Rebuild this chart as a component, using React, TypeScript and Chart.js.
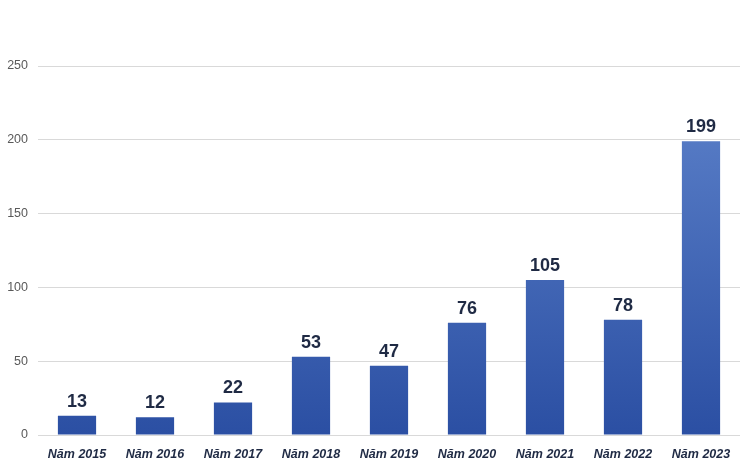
import React, { useEffect, useRef } from "react";
import { Chart, registerables } from "chart.js";

Chart.register(...registerables);

const categories = ["Năm 2015", "Năm 2016", "Năm 2017", "Năm 2018", "Năm 2019", "Năm 2020", "Năm 2021", "Năm 2022", "Năm 2023"];
const values = [13, 12, 22, 53, 47, 76, 105, 78, 199];
const yTicks = [0, 50, 100, 150, 200, 250];

const labelPlugin = {
  id: "valueLabels",
  afterDatasetsDraw(chart: any) {
    const ctx = chart.ctx;
    const meta = chart.getDatasetMeta(0);
    ctx.save();
    ctx.font = "bold 18px Arial, 'Liberation Sans', sans-serif";
    ctx.fillStyle = "#1f2a44";
    ctx.textAlign = "center";
    ctx.textBaseline = "bottom";
    meta.data.forEach((bar: any, i: number) => {
      ctx.fillText(String(values[i]), bar.x, bar.y - 5);
    });
    ctx.restore();
  },
};

export default function App() {
  const ref = useRef<HTMLCanvasElement | null>(null);
  useEffect(() => {
    document.body.style.margin = "0";
    const canvas = ref.current!;
    const chart = new Chart(canvas, {
      type: "bar",
      data: {
        labels: categories,
        datasets: [
          {
            data: values,
            backgroundColor: (c: any) => {
              const area = c.chart.chartArea;
              if (!area) return "#3d63b5";
              const g = c.chart.ctx.createLinearGradient(0, area.top, 0, area.bottom);
              g.addColorStop(0, "#5f84cc");
              g.addColorStop(1, "#2b4fa3");
              return g;
            },
            borderWidth: 0,
            barPercentage: 0.49,
            categoryPercentage: 1,
          },
        ],
      },
      options: {
        animation: false,
        responsive: false,
        layout: { padding: { top: 66, right: 10, left: 0, bottom: 0 } },
        plugins: { legend: { display: false }, tooltip: { enabled: false } },
        scales: {
          x: {
            grid: { display: false },
            border: { display: false },
            ticks: {
              color: "#1f2a44",
              font: { family: "Arial, 'Liberation Sans', sans-serif", size: 12.5, style: "italic", weight: "bold" },
              padding: 4,
              maxRotation: 0,
            },
            afterFit: (s: any) => { s.height = 28; },
          },
          y: {
            min: 0,
            max: 250,
            afterBuildTicks: (s: any) => { s.ticks = yTicks.map((v) => ({ value: v })); },
            grid: { color: "#d9d9d9", drawTicks: false, lineWidth: 1 },
            border: { display: false },
            ticks: {
              color: "#595959",
              font: { family: "Arial, 'Liberation Sans', sans-serif", size: 12.5 },
              padding: 10,
            },
            afterFit: (s: any) => { s.width = 38; },
          },
        },
      },
      plugins: [labelPlugin],
    });
    return () => chart.destroy();
  }, []);
  return <canvas ref={ref} width={750} height={463} style={{ display: "block" }} />;
}
